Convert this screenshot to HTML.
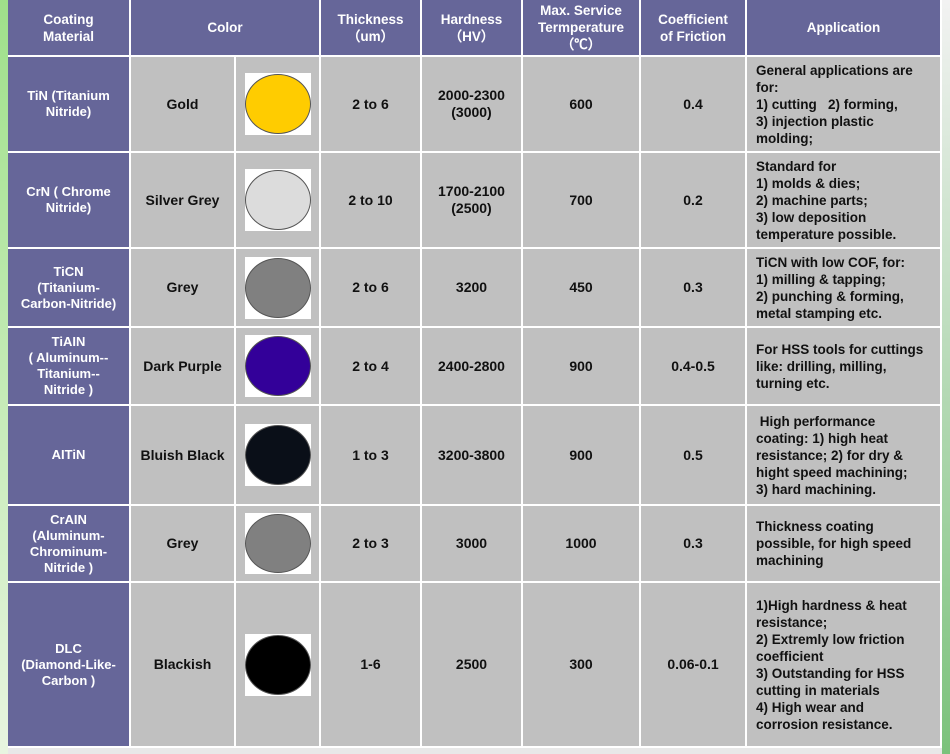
<!DOCTYPE html>
<html><head><meta charset="utf-8"><style>
body{margin:0;width:950px;height:754px;overflow:hidden;background:#e8e8e8;font-family:"Liberation Sans",sans-serif;position:relative}
.bgl{position:absolute;left:0;top:0;width:8px;height:754px;background:linear-gradient(#9fe08a,#e8f5e0)}
.bgr{position:absolute;right:0;top:0;width:8px;height:754px;background:linear-gradient(#f2f2f2,#7bc27b)}
.c{position:absolute;box-sizing:border-box;border-right:2px solid #fff;border-bottom:2px solid #fff;display:flex;align-items:center;justify-content:center;text-align:center;font-weight:bold;font-size:14px;color:#111;background:#c0c0c0;line-height:17px}
.h{background:#666699;color:#fff;font-size:13.5px;line-height:17px}
.m{background:#666699;color:#fff;font-size:13px;line-height:16px}
.a{justify-content:flex-start;text-align:left;padding-left:9px;font-size:13.5px;line-height:17px}
.img{position:absolute;background:#fff;display:flex;align-items:center;justify-content:center}
.dot{border-radius:50%}
</style></head><body>
<div class="bgl"></div>
<div class="bgr"></div>
<div id="t"></div>
<script>
const xs=[8,131,236,321,422,523,641,747,942];
const ys=[0,57,153,249,328,406,506,583,748];
const headers=["Coating<br>Material","Color","Thickness<br>（um）","Hardness<br>（HV）","Max. Service<br>Termperature<br>（℃）","Coefficient<br>of Friction","Application"];
const rows=[
["TiN (Titanium<br>Nitride)","Gold","#ffcc00","2 to 6","2000-2300<br>(3000)","600","0.4","General applications are<br>for:<br>1) cutting &nbsp; 2) forming,<br>3) injection plastic<br>molding;"],
["CrN ( Chrome<br>Nitride)","Silver Grey","#dcdcdc","2 to 10","1700-2100<br>(2500)","700","0.2","Standard for<br>1) molds &amp; dies;<br>2) machine parts;<br>3) low deposition<br>temperature possible."],
["TiCN<br>(Titanium-<br>Carbon-Nitride)","Grey","#808080","2 to 6","3200","450","0.3","TiCN with low COF, for:<br>1) milling &amp; tapping;<br>2) punching &amp; forming,<br>metal stamping etc."],
["TiAIN<br>( Aluminum--<br>Titanium--<br>Nitride )","Dark Purple","#330099","2 to 4","2400-2800","900","0.4-0.5","For HSS tools for cuttings<br>like: drilling, milling,<br>turning etc."],
["AITiN","Bluish Black","#0a0f18","1 to 3","3200-3800","900","0.5","&nbsp;High performance<br>coating: 1) high heat<br>resistance; 2) for dry &amp;<br>hight speed machining;<br>3) hard machining."],
["CrAIN<br>(Aluminum-<br>Chrominum-<br>Nitride )","Grey","#808080","2 to 3","3000","1000","0.3","Thickness coating<br>possible, for high speed<br>machining"],
["DLC<br>(Diamond-Like-<br>Carbon )","Blackish","#000000","1-6","2500","300","0.06-0.1","1)High hardness &amp; heat<br>resistance;<br>2) Extremly low friction<br>coefficient<br>3) Outstanding for HSS<br>cutting in materials<br>4) High wear and<br>corrosion resistance."]
];
const t=document.getElementById('t');
function cell(x0,x1,y0,y1,html,cls){const d=document.createElement('div');d.className='c '+cls;d.style.left=x0+'px';d.style.top=y0+'px';d.style.width=(x1-x0)+'px';d.style.height=(y1-y0)+'px';d.innerHTML=html;t.appendChild(d);return d;}
const hx=[0,1,3,4,5,6,7,8];
headers.forEach((h,i)=>{const d=cell(xs[hx[i]],xs[hx[i+1]],ys[0],ys[1],h,'h');

});
rows.forEach((r,i)=>{const y0=ys[i+1],y1=ys[i+2];
let d=cell(xs[0],xs[1],y0,y1,r[0],'m');


d=cell(xs[1],xs[2],y0,y1,r[1],'');


d=cell(xs[2],xs[3],y0,y1,'','');


const hgt=Math.min(62,y1-y0-16);const im=document.createElement('div');im.className='img';
im.style.left=(xs[2]+9)+'px';im.style.width='66px';im.style.top=((y0+y1)/2-hgt/2-1)+'px';im.style.height=hgt+'px';
const dot=document.createElement('div');dot.className='dot';dot.style.width='64px';dot.style.height=(hgt-4)+'px';dot.style.background=r[2];dot.style.border='1px solid #555';
im.appendChild(dot);t.appendChild(im);


for(let k=3;k<7;k++){d=cell(xs[k],xs[k+1],y0,y1,r[k],'');

}
d=cell(xs[7],xs[8],y0,y1,r[7],'a');


});
</script>
</body></html>
